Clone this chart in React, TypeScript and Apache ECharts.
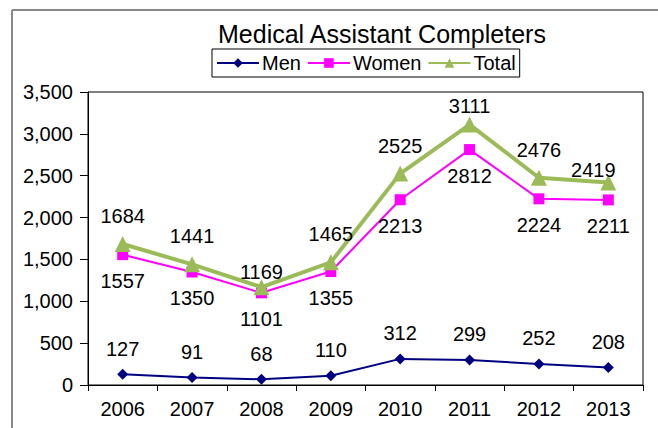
import React, { useEffect, useRef } from "react";
import * as echarts from "echarts";

const categories = ["2006", "2007", "2008", "2009", "2010", "2011", "2012", "2013"];
const men = [127, 91, 68, 110, 312, 299, 252, 208];
const women = [1557, 1350, 1101, 1355, 2213, 2812, 2224, 2211];
const total = [1684, 1441, 1169, 1465, 2525, 3111, 2476, 2419];

const FONT = "Liberation Sans, Arial, sans-serif";

export default function App() {
  const ref = useRef<HTMLDivElement>(null);
  useEffect(() => {
    if (!ref.current) return;
    const chart = echarts.init(ref.current, null, { renderer: "svg" });
    const totalData = total.map((v, i) => {
      if (i === 2) return { value: v, label: { offset: [0, 13] } };
      if (i === 5) return { value: v, label: { offset: [0, 9] } };
      if (i === 7) return { value: v, label: { offset: [-15, 16] } };
      return v;
    });
    chart.setOption({
      animation: false,
      backgroundColor: "#fff",
      textStyle: { fontFamily: FONT },
      title: {
        text: "Medical Assistant Completers",
        left: 213,
        top: 16,
        textStyle: { fontSize: 25, fontWeight: "normal", color: "#000", fontFamily: FONT },
      },
      legend: {
        left: 212,
        top: 49,
        borderColor: "#000",
        borderWidth: 1,
        padding: [4, 4, 4, 4],
        itemWidth: 42,
        itemHeight: 12,
        itemGap: 6,
        textStyle: { fontSize: 20, color: "#000", fontFamily: FONT, padding: [0, 0, 0, -2] },
        data: ["Men", "Women", "Total"],
      },
      graphic: [
        { type: "line", shape: { x1: 12, y1: 10, x2: 658, y2: 10 }, style: { stroke: "#888", lineWidth: 2 } },
        { type: "line", shape: { x1: 12, y1: 10, x2: 12, y2: 428 }, style: { stroke: "#888", lineWidth: 2 } },
      ],
      grid: {
        left: 88,
        right: 15,
        top: 92,
        bottom: 43,
        show: true,
        borderColor: "#000",
        borderWidth: 1,
        backgroundColor: "transparent",
      },
      xAxis: {
        type: "category",
        data: categories,
        boundaryGap: true,
        axisLine: { lineStyle: { color: "#000", width: 1 } },
        axisTick: { show: true, length: 6, inside: false, lineStyle: { color: "#000" } },
        axisLabel: { fontSize: 20, color: "#000", margin: 14, fontFamily: FONT },
      },
      yAxis: {
        type: "value",
        min: 0,
        max: 3500,
        interval: 500,
        axisLine: { show: true, lineStyle: { color: "#000", width: 1 } },
        axisTick: { show: true, length: 8, lineStyle: { color: "#000" } },
        splitLine: { show: false },
        axisLabel: {
          fontSize: 20,
          color: "#000",
          margin: 15,
          fontFamily: FONT,
          formatter: (v: number) => v.toLocaleString("en-US"),
        },
      },
      series: [
        {
          name: "Men",
          type: "line",
          data: men,
          color: "#000080",
          symbol: "diamond",
          symbolSize: 11,
          lineStyle: { width: 2, color: "#000080" },
          itemStyle: { color: "#000080" },
          label: { show: true, position: "top", distance: 10, fontSize: 20, color: "#000", fontFamily: FONT },
          z: 2,
        },
        {
          name: "Women",
          type: "line",
          data: women,
          color: "#FF00FF",
          symbol: "rect",
          symbolSize: 11,
          lineStyle: { width: 2, color: "#FF00FF" },
          itemStyle: { color: "#FF00FF" },
          label: { show: true, position: "bottom", distance: 11, fontSize: 20, color: "#000", fontFamily: FONT },
          z: 3,
        },
        {
          name: "Total",
          type: "line",
          data: totalData,
          color: "#9BBB59",
          symbol: "triangle",
          symbolSize: 16,
          lineStyle: { width: 4, color: "#9BBB59" },
          itemStyle: { color: "#9BBB59" },
          label: { show: true, position: "top", distance: 10, fontSize: 20, color: "#000", fontFamily: FONT },
          z: 4,
        },
      ],
    });
    return () => chart.dispose();
  }, []);
  return <div ref={ref} style={{ width: 658, height: 428, position: "absolute", left: 0, top: 0 }} />;
}
